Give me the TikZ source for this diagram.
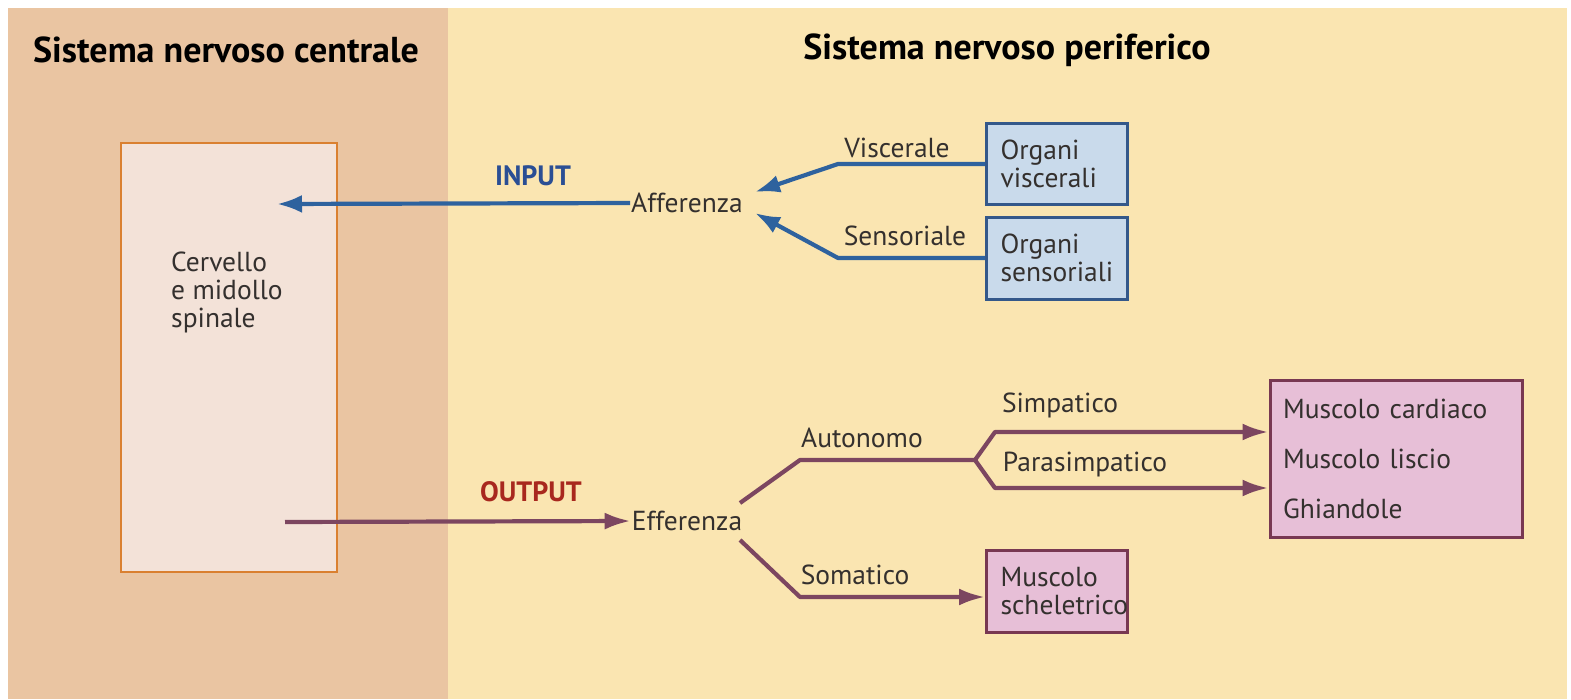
\documentclass[tikz,border=0pt]{standalone}
\usepackage{fontspec}
\setmainfont{PT Sans}
\usetikzlibrary{arrows.meta,positioning}

\definecolor{cnsbg}{RGB}{234,197,162}
\definecolor{pnsbg}{RGB}{250,229,177}
\definecolor{cnsfill}{RGB}{243,226,216}
\definecolor{cnsline}{RGB}{218,128,48}
\definecolor{affblue}{RGB}{46,98,158}
\definecolor{inblue}{RGB}{42,78,148}
\definecolor{organfill}{RGB}{201,218,235}
\definecolor{organline}{RGB}{52,88,138}
\definecolor{effpurple}{RGB}{124,70,96}
\definecolor{outred}{RGB}{168,40,30}
\definecolor{musclefill}{RGB}{231,191,215}
\definecolor{muscleline}{RGB}{120,56,82}
\definecolor{textgray}{RGB}{52,48,46}

\tikzset{
  label/.style={font=\fontsize{27.5}{28}\selectfont, text=textgray, inner sep=1pt},
  paneltitle/.style={font=\fontsize{36}{40}\selectfont\bfseries, text=black},
  flowtitle/.style={font=\fontsize{28}{30}\selectfont\bfseries},
  cnsbox/.style={draw=cnsline, line width=2.5pt, fill=cnsfill},
  organbox/.style={draw=organline, line width=3pt, fill=organfill, minimum width=141,
    text width=113, align=left, inner xsep=14pt, inner ysep=4pt, label},
  musclebox/.style={draw=muscleline, line width=3pt, fill=musclefill, text width=113,
    align=left, inner xsep=14pt, inner ysep=4pt, label},
  afferent/.style={draw=affblue, line width=4.2pt, line join=round, -{Latex[length=25pt,width=18pt]}},
  efferent/.style={draw=effpurple, line width=4.2pt, line join=round, -{Latex[length=26pt,width=17pt]}}
}

\begin{document}
\begin{tikzpicture}[x=1pt,y=-1pt]
    % === Panels ===
    \useasboundingbox (0,0) rectangle (1571,699);
    \fill[cnsbg] (8,8) rectangle (448,699);
    \fill[pnsbg] (448,8) rectangle (1567,699);
    \node[paneltitle] (cnstitle) at (226,50) {Sistema nervoso centrale};
    \node[paneltitle] (pnstitle) at (1007,50) {Sistema nervoso periferico};

    % === Central box ===
    \node[cnsbox, minimum width=216, minimum height=429] (cns) at (229,357.5) {};
    \node[label, align=left, anchor=north west] (brain) at (170,251) {Cervello\\e midollo\\spinale};
    \coordinate (cnsin) at (277,204);
    \coordinate (cnsout) at (285,522);

    % === Afferent side ===
    \node[label] (aff) at (687,203) {Afferenza};
    \node[flowtitle, text=inblue] (input) at (533,176) {INPUT};
    \node[organbox, minimum height=81] (visc) at (1057,164) {Organi\\viscerali};
    \node[organbox, minimum height=82] (sens) at (1057,258) {Organi\\sensoriali};
    \coordinate (affv) at (755,192);
    \coordinate (affs) at (755,213);
    \draw[afferent] (visc.west) -- ++(-147,0) -- (affv);
    \draw[afferent] (sens.west) -- ++(-147,0) -- (affs);
    \node[label] (viscl) at (897,148) {Viscerale};
    \node[label] (sensl) at (905,236) {Sensoriale};
    \draw[afferent] (aff.west) -- (cnsin);

    % === Efferent side ===
    \node[label] (eff) at (687,521) {Efferenza};
    \node[flowtitle, text=outred] (output) at (531,492) {OUTPUT};
    \draw[efferent] (cnsout) -- (eff.west);
    \node[musclebox, minimum height=157, minimum width=252, text width=226,
      inner xsep=13pt, font=\fontsize{27.5}{50}\selectfont] (smooth) at (1396,458.5)
      {Muscolo cardiaco\\Muscolo liscio\\Ghiandole};
    \node[musclebox, minimum width=141, minimum height=82] (skel) at (1057,591) {Muscolo\\scheletrico};

    % autonomic branch with fork
    \coordinate (autstart) at (740,503);
    \coordinate (fork) at (975,460);
    \draw[effpurple, line width=4.2pt, line join=round] (autstart) -- (800,460) -- (fork);
    \draw[efferent] (fork) -- (995,432) -- (smooth.west |- 0,432);
    \draw[efferent] (fork) -- (995,488) -- (smooth.west |- 0,488);
    \node[label] (autl) at (862,438) {Autonomo};
    \node[label] (simpl) at (1060,405) {Simpatico};
    \node[label] (parasl) at (1085,465) {Parasimpatico};

    % somatic branch
    \coordinate (somstart) at (740,540);
    \draw[efferent] (somstart) -- (800,597) -- (skel.west |- 0,597);
    \node[label] (soml) at (855,575) {Somatico};
\end{tikzpicture}
\end{document}
